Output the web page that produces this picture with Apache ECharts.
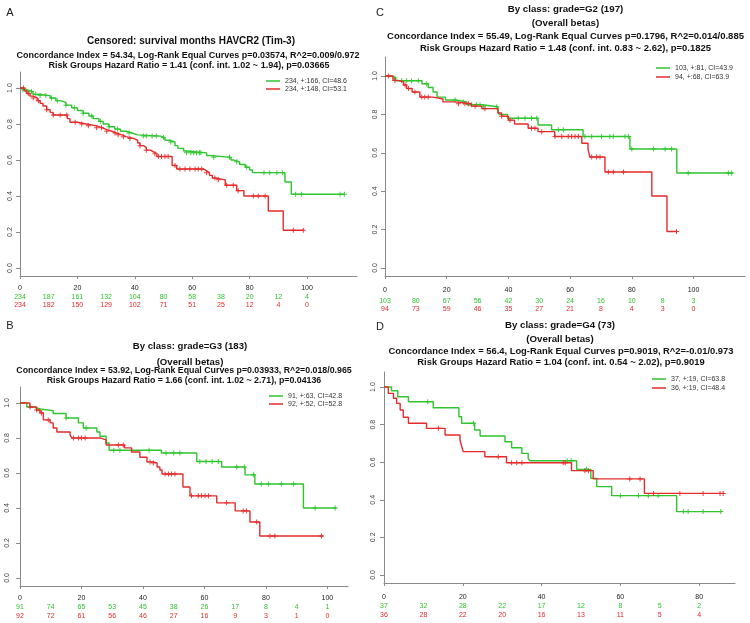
<!DOCTYPE html>
<html><head><meta charset="utf-8">
<script src="https://cdn.jsdelivr.net/npm/echarts/dist/echarts.min.js"></script>
<style>html,body{margin:0;padding:0;background:#fff}#c{width:750px;height:623px}</style>
</head><body><div id="c"></div>
<script>
// ---------------- DATA ----------------
const yTickValues = [0, 0.2, 0.4, 0.6, 0.8, 1.0];

// Panel A
const titleA = ["Censored: survival months HAVCR2 (Tim-3)",
  "Concordance Index = 54.34, Log-Rank Equal Curves p=0.03574, R^2=0.009/0.972",
  "Risk Groups Hazard Ratio = 1.41 (conf. int. 1.02 ~ 1.94), p=0.03665"];
const legendA = ["234, +:166, CI=48.6", "234, +:148, CI=53.1"];
const xTicksA = [0, 20, 40, 60, 80, 100];
const riskTimesA = [0, 10, 20, 30, 40, 50, 60, 70, 80, 90, 100];
const riskGreenA = [234, 187, 161, 132, 104, 80, 58, 38, 20, 12, 4];
const riskRedA = [234, 182, 150, 129, 102, 71, 51, 25, 12, 4, 0];
const curveGreenA = [[0,1],[1,0.99],[2.5,0.98],[4.5,0.965],[7,0.958],[10.5,0.945],[12.5,0.93],[14,0.92],[16,0.905],[18,0.89],[20,0.875],[22,0.86],[24,0.845],[25.5,0.83],[27.5,0.815],[29,0.80],[31,0.785],[33,0.772],[35,0.76],[37,0.75],[39,0.74],[41,0.733],[49,0.725],[50.5,0.71],[52,0.70],[54,0.68],[55,0.665],[57,0.65],[58,0.64],[65,0.625],[66,0.615],[73.5,0.60],[74.5,0.59],[76.5,0.575],[78.5,0.56],[80,0.545],[81,0.53],[92.3,0.478],[94.5,0.41],[113,0.41]];
const curveRedA = [[0,1],[1.5,0.985],[2.3,0.97],[3.5,0.955],[4.6,0.945],[6,0.93],[7,0.915],[8,0.9],[9.3,0.88],[10.5,0.865],[11.5,0.85],[16.5,0.83],[17.4,0.81],[20,0.80],[23,0.79],[26.7,0.78],[28.5,0.77],[30,0.76],[32,0.75],[33.7,0.74],[35.5,0.73],[37,0.72],[39.5,0.71],[41,0.695],[41.8,0.68],[43,0.67],[44,0.655],[45.5,0.645],[46.5,0.635],[47.7,0.62],[53,0.57],[54.6,0.55],[64,0.54],[65,0.53],[66,0.515],[67,0.50],[68,0.49],[71.5,0.46],[75.5,0.43],[78,0.40],[86.5,0.317],[91.7,0.21],[98.7,0.21]];
const censorGreenA = [1,2.5,4,5.5,7,9,11,13,16,19,22,25,28,31,34,38,43,44,46,47.5,50,52.5,58,59.5,60.5,61.5,62.5,63,67.5,73,75.5,79,85,87,89.5,91.5,96,98,111.5,113];
const censorRedA = [1.2,2.9,4.6,6.4,9.3,11.6,14,16.3,19.2,21.5,23.8,26.7,28.4,30.2,33.1,34.2,36,38.3,41.8,44,47,48.2,49.3,50.5,51.6,54,55.7,57.5,59.2,61,62.1,63.3,65,67.9,69.1,72,74.3,76,81.3,83,85.4,95.2,98.7];

// Panel B
const titleB = ["By class: grade=G3 (183)", "(Overall betas)",
  "Concordance Index = 53.92, Log-Rank Equal Curves p=0.03933, R^2=0.018/0.965",
  "Risk Groups Hazard Ratio = 1.66 (conf. int. 1.02 ~ 2.71), p=0.04136"];
const legendB = ["91, +:63, CI=42.8", "92, +:52, CI=52.8"];
const xTicksB = [0, 20, 40, 60, 80, 100];
const riskTimesB = [0, 10, 20, 30, 40, 50, 60, 70, 80, 90, 100];
const riskGreenB = [91, 74, 65, 53, 45, 38, 26, 17, 8, 4, 1];
const riskRedB = [92, 72, 61, 56, 46, 27, 16, 9, 3, 1, 0];
const curveGreenB = [[0,1],[2.2,0.977],[4.3,0.966],[6.5,0.955],[10.8,0.94],[15,0.914],[19,0.886],[20.6,0.857],[25,0.834],[26,0.81],[28,0.771],[29,0.73],[46,0.714],[57.5,0.665],[65.6,0.634],[73.2,0.589],[76.4,0.537],[92.2,0.40],[103,0.40]];
const curveRedB = [[0,1],[3.2,0.977],[5.4,0.96],[6.5,0.943],[7.6,0.903],[9.8,0.886],[10.8,0.857],[12,0.834],[16.3,0.817],[16.8,0.80],[26,0.789],[28,0.76],[34,0.743],[36.3,0.72],[39,0.69],[41.3,0.663],[43.3,0.657],[44.6,0.634],[45.5,0.617],[46.2,0.594],[53,0.52],[55.3,0.469],[64,0.429],[70,0.383],[74.8,0.32],[78,0.24],[98.6,0.24]];
const censorGreenB = [6.5,15,21.5,30.5,32.5,42,47.5,50,52,58.5,60.5,62.5,64.5,70.5,73,76,78.5,80.8,85,89,96,102.5];
const censorRedB = [3.3,5.4,7,9.2,17.4,19,20,21.2,32,33.6,42.3,43.4,47.2,48.3,49.3,50.4,55.8,58,59,60.2,61.3,67.2,72.6,73.7,77,81.3,82.9,98.1];

// Panel C
const titleC = ["By class: grade=G2 (197)", "(Overall betas)",
  "Concordance Index = 55.49, Log-Rank Equal Curves p=0.1796, R^2=0.014/0.885",
  "Risk Groups Hazard Ratio = 1.48 (conf. int. 0.83 ~ 2.62), p=0.1825"];
const legendC = ["103, +:81, CI=43.9", "94, +:68, CI=63.9"];
const xTicksC = [0, 20, 40, 60, 80, 100];
const riskTimesC = [0, 10, 20, 30, 40, 50, 60, 70, 80, 90, 100];
const riskGreenC = [103, 80, 67, 56, 42, 30, 24, 16, 10, 8, 3];
const riskRedC = [94, 73, 59, 46, 35, 27, 21, 8, 4, 3, 0];
const curveGreenC = [[0,1],[2.3,0.99],[3.4,0.975],[12,0.96],[14,0.94],[15.6,0.917],[16.9,0.89],[19.6,0.875],[22.8,0.865],[26.5,0.85],[31.4,0.84],[36.6,0.823],[37,0.80],[39.7,0.78],[49.6,0.745],[54,0.72],[64.2,0.685],[79.4,0.62],[94.6,0.495],[112.8,0.495]];
const curveRedC = [[0,1],[2.6,0.977],[4.3,0.97],[6,0.953],[7,0.935],[8.8,0.917],[11.3,0.89],[15.7,0.88],[18.8,0.865],[22.6,0.856],[28,0.843],[31.4,0.83],[36.6,0.807],[37.8,0.79],[40,0.77],[42,0.75],[46.4,0.728],[49.6,0.71],[55,0.685],[63.8,0.65],[65.8,0.62],[66.4,0.578],[71.3,0.50],[86.5,0.375],[91.4,0.19],[94.7,0.19]];
const censorGreenC = [3.2,5.4,7,8.6,10.8,13.5,22.7,25.4,28.1,29.7,30.8,31.9,36.2,43.2,45.4,47.5,49.2,56.2,57.8,64.8,67,70.2,72.9,74,77.8,78.9,80,87,90.8,92.9,98.3,111.3,112.4];
const censorRedC = [1.1,3.2,6.5,7.6,9.7,11.9,12.9,14,23.8,25.9,27,29.2,32.4,37.8,40.5,47.5,48.6,50.8,55.1,57.3,59.4,60.5,61.6,62.7,67,68.6,69.7,72.4,74,77.3,94.5];

// Panel D
const titleD = ["By class: grade=G4 (73)", "(Overall betas)",
  "Concordance Index = 56.4, Log-Rank Equal Curves p=0.9019, R^2=-0.01/0.973",
  "Risk Groups Hazard Ratio = 1.04 (conf. int. 0.54 ~ 2.02), p=0.9019"];
const legendD = ["37, +:19, CI=63.8", "36, +:19, CI=48.4"];
const xTicksD = [0, 20, 40, 60, 80];
const riskTimesD = [0, 10, 20, 30, 40, 50, 60, 70, 80];
const riskGreenD = [37, 32, 28, 22, 17, 12, 8, 5, 2];
const riskRedD = [36, 28, 22, 20, 16, 13, 11, 5, 4];
const curveGreenD = [[0,1],[1.9,0.98],[3.5,0.948],[6.2,0.922],[12.5,0.89],[19,0.842],[19.7,0.807],[23,0.771],[24.4,0.739],[30.7,0.709],[32.4,0.677],[35,0.647],[36.6,0.62],[37,0.608],[48.9,0.562],[52.5,0.514],[54,0.47],[57.8,0.422],[74.3,0.337],[85.7,0.337]];
const curveRedD = [[0,1],[1.1,0.966],[2.4,0.94],[3.2,0.913],[4.1,0.878],[4.9,0.839],[6.2,0.807],[10.8,0.78],[15.5,0.745],[19.3,0.718],[19.7,0.686],[20.1,0.656],[25.6,0.629],[31.1,0.597],[47.6,0.555],[53.1,0.511],[66.1,0.434],[86.4,0.434]];
const censorGreenD = [11.1,22.7,46.5,47.5,51.4,60,64.6,67.1,69.6,76,77.2,81,85.5];
const censorRedD = [13.8,29,32.4,33.7,35,45.5,46,51,51.9,62.4,65,68.4,75.1,81,85.3,86.1];

// ---------------- LAYOUT / STYLE ----------------
const GREEN = '#2fc52f', RED = '#e52b2b';
const FONT = '"Liberation Sans", Arial, Helvetica, sans-serif';
const panels = [
  { letter:'A', lx:10, ly:13, title:titleA, titleLines:1, titleY:[41,56,66], titleX:[191,188,189], tSize:10, sSize:9.0,
    legend:legendA, legX:266, legY:77.5, legGap:1,
    grid:{left:20, top:72, width:337, height:204}, xMax:117.4, yMin:-0.044, yMax:1.089, yLabMargin:6.5,
    xTicks:xTicksA, riskTimes:riskTimesA, riskG:riskGreenA, riskR:riskRedA, tickM:9, gM:18, rM:26,
    cg:curveGreenA, cr:curveRedA, sg:censorGreenA, sr:censorRedA },
  { letter:'B', lx:10, ly:326, title:titleB, titleLines:2, titleY:[346,362,371,381], titleX:[190,190,184,184], tSize:9.6, sSize:8.8,
    legend:legendB, legX:269, legY:392.5, legGap:1,
    grid:{left:20, top:387, width:328, height:199}, xMax:106.7, yMin:-0.046, yMax:1.091, yLabMargin:9,
    xTicks:xTicksB, riskTimes:riskTimesB, riskG:riskGreenB, riskR:riskRedB, tickM:8.5, gM:17.5, rM:26.5,
    cg:curveGreenB, cr:curveRedB, sg:censorGreenB, sr:censorRedB },
  { letter:'C', lx:380, ly:13, title:titleC, titleLines:2, titleY:[9,23,36,48], titleX:[565.5,565.5,565.5,565.5], tSize:9.7, sSize:9.5,
    legend:legendC, legX:656, legY:64.5, legGap:2,
    grid:{left:385, top:57, width:360, height:219}, xMax:116.7, yMin:-0.042, yMax:1.099, yLabMargin:6,
    xTicks:xTicksC, riskTimes:riskTimesC, riskG:riskGreenC, riskR:riskRedC, tickM:10.5, gM:21.5, rM:29.5,
    cg:curveGreenC, cr:curveRedC, sg:censorGreenC, sr:censorRedC },
  { letter:'D', lx:380, ly:327, title:titleD, titleLines:2, titleY:[325,339,351,362], titleX:[560,560,561,561], tSize:9.7, sSize:9.4,
    legend:legendD, legX:652, legY:375.5, legGap:2,
    grid:{left:384, top:372, width:351, height:211}, xMax:89.1, yMin:-0.043, yMax:1.08, yLabMargin:7.5,
    xTicks:xTicksD, riskTimes:riskTimesD, riskG:riskGreenD, riskR:riskRedD, tickM:10.5, gM:19.5, rM:28.5,
    cg:curveGreenD, cr:curveRedD, sg:censorGreenD, sr:censorRedD }
];

function survAt(curve, t) {
  let s = 1;
  for (const p of curve) { if (p[0] <= t) s = p[1]; else break; }
  return s;
}
const PLUS = 'path://M4,0H6V4H10V6H6V10H4V6H0V4H4Z';

const grid = [], xAxis = [], yAxis = [], series = [], legend = [], graphic = [];
panels.forEach((p, g) => {
  grid.push(Object.assign({containLabel:false}, p.grid));
  const axisLine = {show:true, onZero:false, lineStyle:{color:'#8a8a8a', width:1}};
  xAxis.push({type:'value', gridIndex:g, position:'bottom', min:0, max:p.xMax,
    axisLine, splitLine:{show:false},
    axisTick:{show:true, length:3, customValues:p.xTicks, lineStyle:{color:'#8a8a8a'}},
    axisLabel:{customValues:p.xTicks, margin:p.tickM, fontSize:7, color:'#222', fontFamily:FONT}});
  [[p.riskG, GREEN, p.gM], [p.riskR, RED, p.rM]].forEach(([arr, col, m]) => {
    xAxis.push({type:'value', gridIndex:g, position:'bottom', min:0, max:p.xMax,
      axisLine:{show:false, onZero:false}, axisTick:{show:false}, splitLine:{show:false},
      axisLabel:{customValues:p.riskTimes, margin:m, fontSize:7, color:col, fontFamily:FONT,
        formatter: v => { const i = p.riskTimes.indexOf(v); return i >= 0 ? String(arr[i]) : ''; }}});
  });
  yAxis.push({type:'value', gridIndex:g, min:p.yMin, max:p.yMax,
    axisLine:{show:true, onZero:false, lineStyle:{color:'#8a8a8a', width:1}}, splitLine:{show:false},
    axisTick:{show:true, length:4, customValues:yTickValues, lineStyle:{color:'#8a8a8a'}},
    axisLabel:{customValues:yTickValues, rotate:90, margin:p.yLabMargin, fontSize:7, color:'#444', fontFamily:FONT,
      formatter: v => v.toFixed(1)}});
  const xi = g * 3;
  [[p.cg, p.sg, GREEN, p.legend[0]], [p.cr, p.sr, RED, p.legend[1]]].forEach(([curve, cens, col, name], k) => {
    series.push({type:'line', name, xAxisIndex:xi, yAxisIndex:g, step:'end', showSymbol:false,
      data:curve, lineStyle:{color:col, width:1.4}, itemStyle:{color:col}, z:2+k, silent:true});
    series.push({type:'scatter', name: p.letter + (k ? ' red censored' : ' green censored'), xAxisIndex:xi, yAxisIndex:g,
      data:cens.map(t => [t, survAt(curve, t)]), symbol:PLUS, symbolSize:5,
      itemStyle:{color:col, opacity:0.9}, z:2+k, silent:true});
  });
  legend.push({data:p.legend, orient:'vertical', left:p.legX, top:p.legY, itemWidth:14, itemHeight:1.5,
    itemGap:p.legGap, icon:'rect', padding:0, selectedMode:false,
    textStyle:{fontSize:7, lineHeight:7, color:'#333', fontFamily:FONT}});
  p.title.forEach((txt, i) => {
    const big = i < p.titleLines;
    graphic.push({type:'text', x:p.titleX[i], y:p.titleY[i], silent:true,
      style:{text:txt, align:'center', verticalAlign:'middle', fill:'#111',
        font:'bold ' + (big ? p.tSize : p.sSize) + 'px ' + FONT}});
  });
  graphic.push({type:'text', x:p.lx, y:p.ly, silent:true,
    style:{text:p.letter, align:'center', verticalAlign:'middle', fill:'#222', font:'11px ' + FONT}});
});

const chart = echarts.init(document.getElementById('c'), null, {renderer:'canvas'});
chart.setOption({animation:false, backgroundColor:'#fff', grid, xAxis, yAxis, series, legend, graphic});
</script></body></html>
